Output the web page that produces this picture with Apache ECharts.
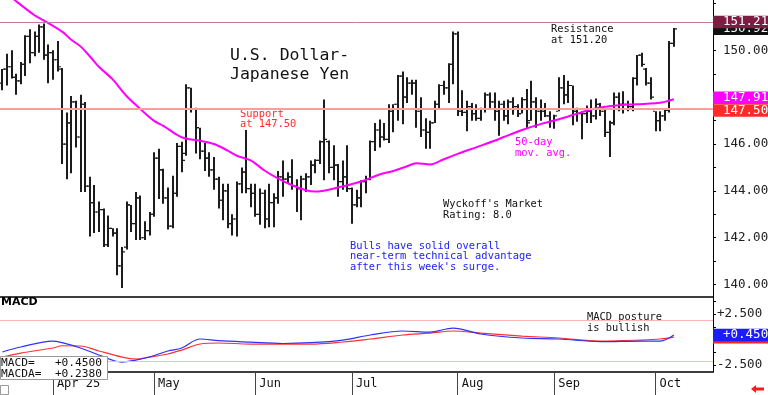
<!DOCTYPE html>
<html><head><meta charset="utf-8">
<script src="https://cdn.jsdelivr.net/npm/echarts@6/dist/echarts.min.js"></script>
<style>html,body{margin:0;padding:0;background:#fff}#c{width:768px;height:395px}</style>
</head><body><div id="c"></div>
<script>
// ---------- categories ----------
const firstDate = '2025-03-17';
const slotCount = 155; // trading days incl. empty right margin
const monthKeys = ['2025-04','2025-05','2025-06','2025-07','2025-08','2025-09','2025-10'];
const monthText = ['Apr 25','May','Jun','Jul','Aug','Sep','Oct'];

// ---------- daily OHLC (USD/JPY) ----------
const open = [148.6,149.2,149.3,148.85,148.7,149.4,150.6,149.9,150.6,151.0,
149.8,149.9,149.6,149.2,146.0,146.9,147.8,146.3,147.7,144.2,
143.5,143.1,143.2,141.7,142.4,142.2,140.8,141.6,143.4,142.6,
143.7,142.0,142.3,143.0,145.4,144.9,143.7,142.5,143.9,145.9,
145.6,148.4,147.5,146.7,145.7,145.4,144.9,144.5,143.6,144.0,
142.6,142.8,144.3,144.8,144.1,143.9,143.0,143.9,142.8,143.5,
143.7,144.6,144.5,144.6,144.2,144.1,144.5,144.6,145.1,145.3,
146.1,146.1,145.0,145.1,144.4,144.6,144.1,143.4,143.7,144.4,
144.5,146.1,146.6,146.3,146.2,147.4,147.7,148.9,148.0,148.6,
148.6,147.4,146.6,146.5,146.9,147.7,148.5,148.4,149.4,150.7,
147.4,147.35,147.6,147.3,147.1,147.5,148.1,147.8,147.4,147.7,
147.2,147.8,147.6,147.3,147.9,147.0,147.8,147.4,147.4,147.2,
147.0,147.4,148.4,148.1,148.5,147.4,147.3,147.3,147.4,147.2,
147.7,147.4,146.5,146.9,148.0,147.7,147.7,147.6,148.8,149.8,
149.2,148.6,147.4,147.0,147.2,147.45,150.3];
const high = [149.2,149.85,150.0,149.0,149.5,150.65,150.9,150.8,151.1,151.15,
150.25,150.0,150.4,149.25,147.35,148.05,147.85,148.1,147.8,144.6,
144.25,143.55,143.25,142.95,142.4,142.4,141.6,143.55,143.4,143.95,
143.8,142.7,143.1,145.65,145.8,144.95,144.15,144.65,146.05,146.1,
148.55,148.4,147.55,146.7,146.05,145.65,145.45,144.6,144.3,144.3,
143.0,144.4,145.0,146.6,144.3,144.3,144.1,144.05,144.3,143.9,
144.85,145.3,144.8,145.35,144.5,144.65,144.75,145.3,145.35,146.15,
147.9,146.15,145.95,145.15,145.3,145.95,144.15,144.05,144.45,144.65,
146.15,146.9,147.05,146.9,147.7,147.7,148.95,149.1,148.85,148.75,
148.75,148.0,147.1,147.0,147.85,148.55,148.7,149.45,150.8,150.8,
148.3,147.85,147.75,147.7,147.55,148.2,148.2,148.2,147.85,147.85,
147.9,148.0,147.7,148.0,148.35,148.7,148.0,147.9,147.75,147.4,
147.25,148.85,148.95,148.7,148.5,147.55,147.4,147.65,147.9,147.95,
147.75,147.5,147.0,148.2,148.2,148.25,147.85,148.85,149.8,149.9,
149.25,148.85,147.4,147.4,147.5,150.4,150.95];
const low = [148.3,148.5,148.8,148.1,148.55,148.9,149.45,149.75,149.9,149.6,
148.6,148.75,149.1,145.15,144.5,144.75,145.85,143.95,143.95,142.05,
142.2,142.25,141.6,141.6,142.05,140.4,139.85,141.5,142.25,141.9,
141.9,141.9,142.1,142.9,143.65,143.45,142.35,142.4,143.75,144.8,
145.5,147.35,145.6,145.35,144.85,144.6,144.05,143.25,142.75,142.4,
142.1,142.05,143.9,143.9,143.3,142.9,142.55,142.4,142.45,142.45,
143.45,143.75,144.3,144.05,143.1,142.75,143.95,144.25,144.75,145.15,
144.45,144.75,144.45,143.75,144.05,143.95,142.6,143.3,143.3,143.9,
144.45,145.7,145.85,146.15,146.05,146.5,147.0,146.85,147.75,148.1,
146.7,146.3,145.8,145.8,146.9,147.5,148.1,147.75,148.55,147.2,
147.2,146.55,147.0,147.0,147.0,147.35,147.5,147.0,146.35,147.0,
146.85,147.25,147.15,147.3,146.7,147.0,146.7,147.0,147.15,146.7,
146.65,147.4,147.7,147.75,146.8,146.95,146.2,146.9,146.9,147.05,
147.2,146.3,145.45,146.8,147.4,147.3,147.4,147.4,148.5,149.3,
148.5,147.9,146.55,146.55,147.0,147.35,150.15];
const close = [149.2,149.3,148.85,148.7,149.4,150.6,149.9,150.6,151.0,149.8,
149.9,149.6,149.3,146.0,146.9,147.8,146.3,147.7,144.2,143.5,
143.1,143.2,141.7,142.4,142.2,140.8,141.4,143.4,142.6,143.7,
142.0,142.3,143.0,145.4,144.9,143.7,142.5,143.9,145.9,145.3,
148.4,147.5,146.7,145.7,145.4,144.9,144.5,143.6,144.0,142.6,
142.8,144.3,144.8,144.1,143.9,143.0,143.9,142.8,143.5,143.7,
144.6,144.5,144.6,144.2,144.1,144.5,144.6,145.1,145.3,146.1,
146.2,145.0,145.1,144.4,144.6,144.1,143.4,143.7,144.4,144.5,
146.1,146.6,146.3,146.2,147.4,147.7,148.9,148.0,148.6,148.6,
147.4,146.6,146.5,146.9,147.7,148.5,148.4,149.4,150.7,147.4,
147.35,147.6,147.3,147.1,147.5,148.1,147.8,147.4,147.7,147.2,
147.8,147.6,147.3,147.9,146.9,147.8,147.4,147.4,147.2,147.0,
147.2,148.4,148.1,148.5,147.4,147.5,147.3,147.4,147.2,147.7,
147.4,146.5,146.9,148.0,147.7,147.7,147.6,148.8,149.8,149.4,
148.6,148.0,147.0,147.2,147.45,150.3,150.92];

// 50-day moving average at [day index, value]
const ma50 = [[0,152.6],[3,152.1],[7,151.5],[9,151.28],[13,150.8],[15,150.45],[17,150.17],[19,149.75],[21,149.3],[24,148.76],[27,148.05],[30,147.5],[33,146.99],[35,146.78],[39,146.29],[43,146.14],[46,146.0],[49,145.72],[51,145.5],[54,145.3],[57,144.87],[60,144.52],[63,144.24],[66,144.03],[68,143.97],[71,144.05],[75,144.24],[78,144.4],[82,144.7],[85,144.85],[88,145.05],[90,145.18],[93,145.13],[96,145.35],[99,145.58],[103,145.86],[107,146.14],[109,146.3],[113,146.6],[117,146.85],[121,147.06],[125,147.3],[127,147.42],[130,147.56],[134,147.66],[138,147.7],[142,147.74],[144,147.8],[146,147.91]];

// MACD and its signal (MACDA)
const macd = [[0,-1.21],[4,-0.72],[11,-0.14],[13,-0.3],[17,-0.82],[21,-1.5],[26,-2.19],[29,-2.0],[32,-1.7],[36,-1.11],[39,-0.82],[43,0.06],[47,-0.1],[54,-0.25],[61,-0.38],[67,-0.3],[74,-0.04],[80,0.45],[87,0.84],[93,0.74],[98,1.13],[104,0.55],[113,0.16],[121,0.06],[130,-0.2],[139,-0.14],[143,-0.14],[146,0.45]];
const macdSignal = [[0,-1.7],[4,-1.31],[11,-0.82],[13,-0.6],[17,-0.62],[21,-1.11],[26,-1.7],[29,-1.89],[32,-1.7],[36,-1.4],[39,-1.02],[43,-0.43],[47,-0.33],[54,-0.43],[61,-0.43],[67,-0.43],[74,-0.23],[80,0.06],[87,0.45],[93,0.64],[98,0.84],[104,0.64],[113,0.35],[121,0.16],[130,-0.14],[139,-0.04],[143,0.06],[146,0.238]];

// levels and readouts
const resistance = 151.21;
const support = 147.50;
const lastClose = 150.92;
const lastMA = 147.91;
const macdLast = 0.4500;
const macdaLast = 0.2380;
const macdBands = [1.85, -2.1];

// price / macd axis ticks
const priceTicks = [140,141,142,143,144,145,146,147,148,149,150,151,152];
const priceLabels = [140,142,144,146,150];
const macdTicks = [-2.5,-1.25,0,1.25,2.5,3.75];
const macdLabels = [2.5,-2.5];

// ---------- build ----------
const dates = [];
(function(){
  const d = new Date(firstDate + 'T00:00:00Z');
  while (dates.length < slotCount) {
    const w = d.getUTCDay();
    if (w !== 0 && w !== 6) dates.push(d.toISOString().slice(0,10));
    d.setUTCDate(d.getUTCDate() + 1);
  }
})();
const monthStart = {};
monthKeys.forEach((k, j) => {
  const idx = dates.findIndex(s => s.startsWith(k));
  if (idx >= 0) monthStart[idx] = monthText[j];
});
const ohlc = open.map((o, i) => [i, o, high[i], low[i], close[i]]);

const MONO = '"DejaVu Sans Mono"';
const BAR = '#1c1c1c';

function renderOHLC(params, api) {
  const i = api.value(0);
  const pO = api.coord([i, api.value(1)]);
  const pH = api.coord([i, api.value(2)]);
  const pL = api.coord([i, api.value(3)]);
  const pC = api.coord([i, api.value(4)]);
  const x = Math.round(pH[0]);
  return {
    type: 'group',
    children: [
      {type:'line', shape:{x1:x, y1:pH[1], x2:x, y2:pL[1]}, style:{stroke:BAR, lineWidth:2}},
      {type:'line', shape:{x1:x-3, y1:pO[1], x2:x-1, y2:pO[1]}, style:{stroke:BAR, lineWidth:1.2}},
      {type:'line', shape:{x1:x+1, y1:pC[1], x2:x+3, y2:pC[1]}, style:{stroke:BAR, lineWidth:1.2}}
    ]
  };
}

function tag(value, text, bg, lineStyle, dy) {
  return {
    yAxis: value,
    lineStyle: lineStyle || {color:'rgba(0,0,0,0)', width:1},
    label: {
      show:true, position:'end', distance:0, formatter:text,
      color:'#fff', backgroundColor:bg, padding:[1,6,0,10], lineHeight:11.5,
      fontFamily:MONO, fontSize:12.5, offset:[0, dy || 0]
    }
  };
}
const fmtSigned = (v, d) => (v >= 0 ? '+' : '') + v.toFixed(d);

const chart = echarts.init(document.getElementById('c'), null, {renderer:'canvas', width:768, height:395});
chart.setOption({
  animation: false,
  backgroundColor: '#fff',
  grid: [
    {left:0, right:55, top:0, height:297, containLabel:false, outerBoundsMode:'none'},
    {left:0, right:55, top:297, height:75, containLabel:false, outerBoundsMode:'none'}
  ],
  xAxis: [
    {type:'category', gridIndex:0, data:dates, boundaryGap:true,
     axisLine:{show:true, onZero:false, lineStyle:{color:'#000', width:1.5}},
     axisTick:{show:false}, axisLabel:{show:false}, splitLine:{show:false}},
    {type:'category', gridIndex:1, data:dates, boundaryGap:true,
     axisLine:{show:true, onZero:false, lineStyle:{color:'#000', width:1.5}},
     axisTick:{show:true, alignWithLabel:true, interval:(i) => monthStart[i] !== undefined, length:23, lineStyle:{color:'#444'}},
     axisLabel:{show:true, interval:(i) => monthStart[i] !== undefined,
       formatter:(v, i) => monthStart[i] || '', align:'left', padding:[0,0,0,4], margin:6,
       fontFamily:MONO, fontSize:12, color:'#111'},
     splitLine:{show:false}}
  ],
  yAxis: [
    {type:'value', gridIndex:0, position:'right', min:139.47, max:152.15,
     splitLine:{show:false},
     axisLine:{show:true, onZero:false, lineStyle:{color:'#000', width:1}},
     axisTick:{show:true, customValues:priceTicks, length:3, lineStyle:{color:'#000'}},
     axisLabel:{show:true, customValues:priceLabels, formatter:v => v.toFixed(2), margin:10,
       fontFamily:MONO, fontSize:12.5, color:'#222'}},
    {type:'value', gridIndex:1, position:'right', min:-3.16, max:4.16,
     splitLine:{show:false},
     axisLine:{show:true, onZero:false, lineStyle:{color:'#000', width:1}},
     axisTick:{show:true, customValues:macdTicks, length:3, lineStyle:{color:'#000'}},
     axisLabel:{show:true, customValues:macdLabels, formatter:v => fmtSigned(v, 3), margin:4,
       fontFamily:MONO, fontSize:12.5, color:'#222'}}
  ],
  series: [
    {name:'levels', type:'line', xAxisIndex:0, yAxisIndex:0, z:1,
     data: close.map((c, i) => [i, c]), showSymbol:false, symbol:'none',
     lineStyle:{opacity:0}, silent:true,
     markLine:{silent:true, symbol:['none','none'], animation:false,
       data:[
         tag(support, support.toFixed(2), '#ff2a2a', {color:'#ff9c9c', width:2, type:'solid'}, 1.5),
         tag(lastClose, lastClose.toFixed(2), '#111111'),
         tag(resistance, resistance.toFixed(2), '#7d1d42', {color:'#c77a98', width:1, type:'solid'})
       ]}},
    {name:'USD/JPY', type:'custom', xAxisIndex:0, yAxisIndex:0, z:2,
     renderItem: renderOHLC, data: ohlc, encode:{x:0, y:[1,2,3,4]}, silent:true},
    {name:'50-day', type:'line', xAxisIndex:0, yAxisIndex:0, z:3,
     data: ma50, connectNulls:true, smooth:0.35, symbol:'none',
     lineStyle:{color:'#ff00ff', width:2}, silent:true,
     markLine:{silent:true, symbol:['none','none'], animation:false,
       data:[ tag(lastMA, lastMA.toFixed(2), '#ff00ff', null, -1.5) ]}},
    {name:'MACDA', type:'line', xAxisIndex:1, yAxisIndex:1, z:2,
     data: macdSignal, smooth:0.35, symbol:'none',
     lineStyle:{color:'#ff3030', width:1.2}, silent:true,
     markLine:{silent:true, symbol:['none','none'], animation:false,
       data:[
         {yAxis:macdBands[0], lineStyle:{color:'#ffb4b4', width:1, type:'solid'}, label:{show:false}},
         {yAxis:macdBands[1], lineStyle:{color:'#c8c8ff', width:1, type:'solid'}, label:{show:false}},
         tag(macdaLast, fmtSigned(macdaLast, 3), '#ff2020')
       ]}},
    {name:'MACD', type:'line', xAxisIndex:1, yAxisIndex:1, z:3,
     data: macd, smooth:0.35, symbol:'none',
     lineStyle:{color:'#3030ff', width:1.2}, silent:true,
     markLine:{silent:true, symbol:['none','none'], animation:false,
       data:[ tag(macdLast, fmtSigned(macdLast, 3), '#1c1cff') ]}}
  ],
  graphic: [
    {type:'text', x:230, y:46, style:{text:'U.S. Dollar-\nJapanese Yen', font:'16.5px ' + MONO, fill:'#111', lineHeight:19}},
    {type:'text', x:240, y:109, style:{text:'Support\nat ' + support.toFixed(2), font:'10.4px ' + MONO, fill:'#ff2a2a', lineHeight:10.5}},
    {type:'text', x:551, y:24, style:{text:'Resistance\nat 151.20', font:'10.4px ' + MONO, fill:'#111', lineHeight:11}},
    {type:'text', x:515, y:137, style:{text:'50-day\nmov. avg.', font:'10.4px ' + MONO, fill:'#ff00ff', lineHeight:11}},
    {type:'text', x:443, y:199, style:{text:"Wyckoff's Market\nRating: 8.0", font:'10.4px ' + MONO, fill:'#111', lineHeight:11}},
    {type:'text', x:350, y:241, style:{text:"Bulls have solid overall\nnear-term technical advantage\nafter this week's surge.", font:'10.4px ' + MONO, fill:'#2020ff', lineHeight:10.5}},
    {type:'text', x:587, y:312, style:{text:'MACD posture\nis bullish', font:'10.4px ' + MONO, fill:'#111', lineHeight:11}},
    {type:'text', x:1, y:297, style:{text:'MACD', font:'bold 11px "DejaVu Sans"', fill:'#000'}},
    {type:'rect', shape:{x:0.5, y:356.5, width:107, height:23}, style:{fill:'#fff', stroke:'#999', lineWidth:1}, z:50},
    {type:'text', x:1, y:357, z:51, style:{text:'MACD=   ' + fmtSigned(macdLast, 4) + '\nMACDA=  ' + fmtSigned(macdaLast, 4), font:'11.2px ' + MONO, fill:'#111', lineHeight:11.5}},
    {type:'rect', shape:{x:0.5, y:385.5, width:8, height:9}, style:{fill:'#fff', stroke:'#999', lineWidth:1}},
    {type:'polygon', shape:{points:[[751,389],[756,385],[756,387.5],[764,387.5],[764,390.5],[756,390.5],[756,393]]}, style:{fill:'#ff1a1a'}}
  ]
});
</script></body></html>
